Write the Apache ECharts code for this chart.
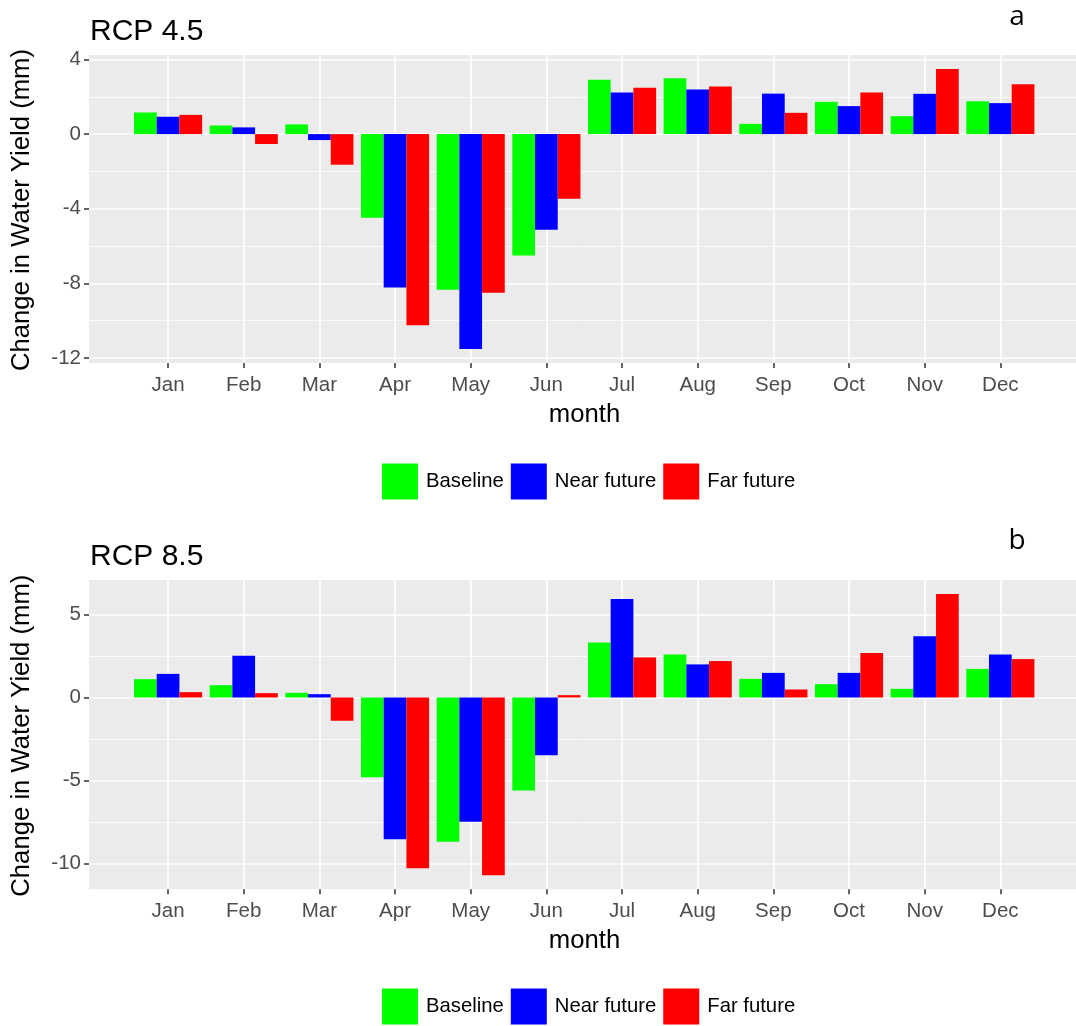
<!DOCTYPE html>
<html>
<head>
<meta charset="utf-8">
<script src="https://cdn.jsdelivr.net/npm/echarts@6/dist/echarts.min.js"></script>
<style>
  html, body { margin: 0; padding: 0; background: #ffffff; }
  #chart { width: 1076px; height: 1026px; }
</style>
</head>
<body>
<div id="chart"></div>
<script>
// ---- data ----
const months = ['Jan', 'Feb', 'Mar', 'Apr', 'May', 'Jun', 'Jul', 'Aug', 'Sep', 'Oct', 'Nov', 'Dec'];
const seriesNames = ['Baseline', 'Near future', 'Far future'];
const seriesColors = ['#00FF00', '#0000FF', '#FF0000'];

// RCP 4.5 change in water yield (mm)
const rcp45Baseline = [1.16, 0.46, 0.52, -4.49, -8.34, -6.51, 2.92, 2.99, 0.55, 1.73, 0.96, 1.76];
const rcp45Near     = [0.93, 0.36, -0.32, -8.22, -11.52, -5.13, 2.23, 2.39, 2.17, 1.50, 2.16, 1.66];
const rcp45Far      = [1.03, -0.53, -1.64, -10.25, -8.50, -3.46, 2.48, 2.55, 1.14, 2.23, 3.49, 2.67];

// RCP 8.5 change in water yield (mm)
const rcp85Baseline = [1.10, 0.74, 0.28, -4.79, -8.68, -5.60, 3.31, 2.59, 1.12, 0.80, 0.52, 1.72];
const rcp85Near     = [1.42, 2.51, 0.20, -8.52, -7.48, -3.47, 5.92, 1.99, 1.48, 1.48, 3.69, 2.59];
const rcp85Far      = [0.32, 0.26, -1.40, -10.27, -10.69, 0.14, 2.41, 2.19, 0.48, 2.67, 6.22, 2.31];

// y-axis tick labels
const rcp45Ticks = [-12, -8, -4, 0, 4];
const rcp85Ticks = [-10, -5, 0, 5];

// ---- layout ----
const FONT = '"Liberation Sans", Arial, sans-serif';
const PANEL_LEFT = 89;
const PANEL_WIDTH = 991;
const PANEL_BG = '#EBEBEB';
const TICK_COLOR = '#333333';
const LABEL_COLOR = '#4D4D4D';

const panels = [
  { title: 'RCP 4.5', tag: 'a', top: 55, height: 308, legendTop: 463.5, titleY: 31.5, tagY: 17,
    ticks: rcp45Ticks, values: [rcp45Baseline, rcp45Near, rcp45Far] },
  { title: 'RCP 8.5', tag: 'b', top: 580, height: 309.3, legendTop: 988.5, titleY: 556.5, tagY: 541,
    ticks: rcp85Ticks, values: [rcp85Baseline, rcp85Near, rcp85Far] }
];

const grid = [], xAxis = [], yAxis = [], series = [], legend = [], graphic = [];

// discrete x positions 1..12, padded like a dodged bar layout (bars 0.9 wide, 5% expansion)
const xLo = 0.55 - 0.05 * 11.9, xHi = 12.45 + 0.05 * 11.9;
const unit = PANEL_WIDTH / (xHi - xLo);
const catAxisData = [''].concat(months, [' ']);   // positions 0..13
const innerIdx = (i) => i > 0 && i < catAxisData.length - 1;

panels.forEach((p, k) => {
  const all = [].concat(...p.values);
  const lo = Math.min(...all), hi = Math.max(...all);
  const pad = 0.05 * (hi - lo);
  const yMin = lo - pad, yMax = hi + pad;
  const pxPerUnit = p.height / (yMax - yMin);
  const tMin = p.ticks[0], tMax = p.ticks[p.ticks.length - 1];
  const base = k * 3;

  // 0: grey panel background
  grid.push({ left: PANEL_LEFT, top: p.top, width: PANEL_WIDTH, height: p.height,
    show: true, backgroundColor: PANEL_BG, borderWidth: 0 });
  xAxis.push({ gridIndex: base, type: 'value', show: false });
  yAxis.push({ gridIndex: base, type: 'value', show: false });

  // 1: horizontal grid lines + y axis labels
  grid.push({ left: PANEL_LEFT, width: PANEL_WIDTH,
    top: p.top + (yMax - tMax) * pxPerUnit, height: (tMax - tMin) * pxPerUnit });
  xAxis.push({ gridIndex: base + 1, type: 'value', show: false });
  yAxis.push({
    gridIndex: base + 1, type: 'value', min: tMin, max: tMax, interval: p.ticks[1] - p.ticks[0],
    axisLine: { show: false, onZero: false },
    axisTick: { show: true, length: 5, lineStyle: { color: TICK_COLOR, width: 1.5 } },
    axisLabel: { fontSize: 20.5, color: LABEL_COLOR, margin: 8, fontFamily: FONT },
    splitLine: { show: true, lineStyle: { color: '#FFFFFF', width: 1.6 } },
    minorTick: { show: false, splitNumber: 2 },
    minorSplitLine: { show: true, lineStyle: { color: '#FFFFFF', width: 0.8 } }
  });

  // 2: bars on the month axis
  grid.push({ left: PANEL_LEFT + (0 - xLo) * unit, width: 13 * unit, top: p.top, height: p.height });
  xAxis.push({
    gridIndex: base + 2, type: 'category', data: catAxisData, boundaryGap: false, position: 'bottom',
    axisLine: { show: false, onZero: false },
    axisTick: { show: true, length: 5, interval: innerIdx, lineStyle: { color: TICK_COLOR, width: 1.5 } },
    axisLabel: { interval: innerIdx, fontSize: 20.5, color: LABEL_COLOR, margin: 12, fontFamily: FONT },
    splitLine: { show: true, interval: innerIdx, lineStyle: { color: '#FFFFFF', width: 1.6 } }
  });
  yAxis.push({ gridIndex: base + 2, type: 'value', min: yMin, max: yMax, show: false });

  p.values.forEach((vals, s) => {
    series.push({
      type: 'bar', name: seriesNames[s], xAxisIndex: base + 2, yAxisIndex: base + 2,
      data: [null].concat(vals, [null]),
      barWidth: 0.3 * unit, barGap: '0%',
      itemStyle: { color: seriesColors[s] },
      emphasis: { disabled: true }
    });
  });

  legend.push({
    data: seriesNames, left: 382, top: p.legendTop, orient: 'horizontal', padding: 0,
    icon: 'rect', itemWidth: 36, itemHeight: 36, itemGap: 7, selectedMode: false,
    textStyle: { fontSize: 20.3, color: '#000000', fontFamily: FONT, padding: [0, 0, 0, 3] }
  });

  // panel title, tag letter, axis titles
  graphic.push(
    { type: 'text', x: 90, y: p.titleY,
      style: { text: p.title, font: '30px ' + FONT, fill: '#000000', textAlign: 'left', textVerticalAlign: 'middle' } },
    { type: 'text', x: 1017, y: p.tagY,
      style: { text: p.tag, font: '28px "Open Sans", sans-serif', fill: '#000000', textAlign: 'center', textVerticalAlign: 'middle' } },
    { type: 'text', x: 22, y: p.top + p.height / 2 + 1, rotation: Math.PI / 2,
      style: { text: 'Change in Water Yield (mm)', font: '25.7px ' + FONT, fill: '#000000', textAlign: 'center', textVerticalAlign: 'middle' } },
    { type: 'text', x: PANEL_LEFT + PANEL_WIDTH / 2, y: p.top + p.height + 52,
      style: { text: 'month', font: '25.7px ' + FONT, fill: '#000000', textAlign: 'center', textVerticalAlign: 'middle' } }
  );
});

const chart = echarts.init(document.getElementById('chart'), null, { renderer: 'canvas' });
chart.setOption({
  animation: false,
  backgroundColor: '#FFFFFF',
  textStyle: { fontFamily: FONT },
  grid, xAxis, yAxis, series, legend, graphic
});
</script>
</body>
</html>
